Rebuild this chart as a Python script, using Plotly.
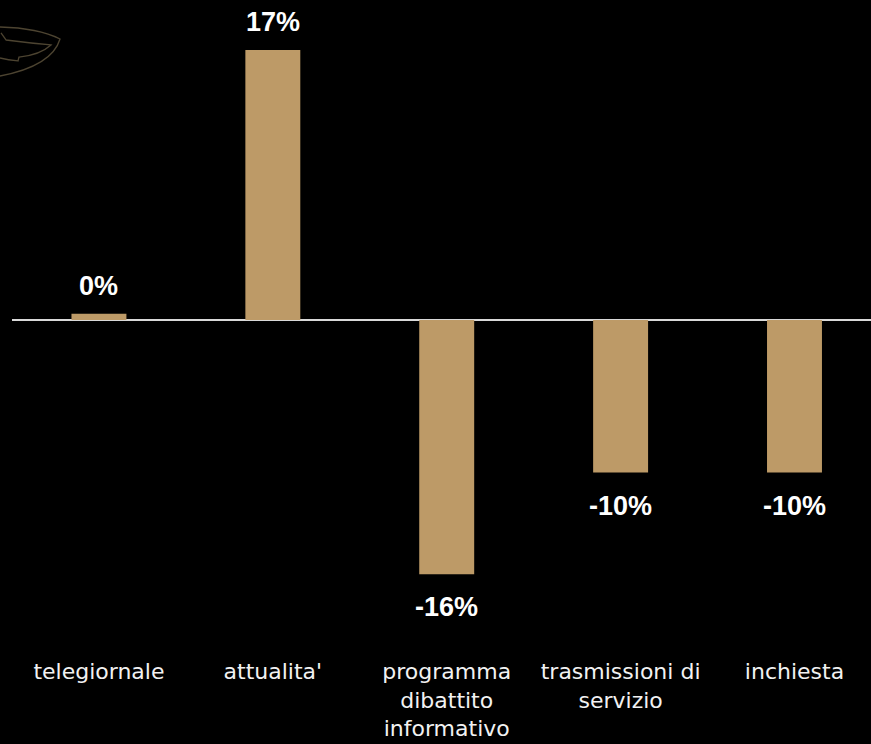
import plotly.graph_objects as go

categories = ["telegiornale", "attualita'", "programma<br>dibattito<br>informativo",
              "trasmissioni di<br>servizio", "inchiesta"]
values = [0.4, 17.0, -16.0, -9.6, -9.6]
labels = [f"{round(v):.0f}%" for v in values]

BAR = "#BD9A67"
W, H = 871, 744
ML, MB = 12, 96
PW, PH = W - ML, H - MB


def p(px, py):
    return f"{(px - ML) / PW:.4f},{1 - py / PH:.4f}"


fig = go.Figure()
fig.add_trace(go.Bar(
    x=list(range(len(categories))), y=values,
    marker=dict(color=BAR, line=dict(width=0)),
    hoverinfo="skip",
))

for i, (v, t) in enumerate(zip(values, labels)):
    fig.add_annotation(
        x=i, y=v, text=f"<b>{t}</b>", showarrow=False,
        yanchor="middle", yshift=(28 if v >= 0 else -33),
        font=dict(family="Liberation Sans, Arial, sans-serif", size=27, color="#ffffff"),
    )

# faint decorative logo outline, top-left
logo = (f"M {p(0,27)} Q {p(38,28)} {p(60,39)} Q {p(52,66)} {p(0,76)} "
        f"M {p(1,33)} L {p(6,40)} Q {p(30,43)} {p(51,45)} Q {p(40,55)} {p(19,57)} L {p(18,61)} "
        f"Q {p(8,60)} {p(0,58)}")
fig.add_shape(type="path", xref="paper", yref="paper", path=logo,
              line=dict(color="#4d4431", width=1.3))

fig.update_layout(
    width=W, height=H,
    margin=dict(l=ML, r=0, t=0, b=MB),
    paper_bgcolor="#000000", plot_bgcolor="#000000",
    bargap=0.684,
    showlegend=False,
    xaxis=dict(
        tickmode="array", tickvals=list(range(len(categories))), ticktext=categories,
        range=[-0.5, 4.44], showgrid=False, zeroline=False, showline=False, ticks="",
        tickfont=dict(family="DejaVu Sans, Verdana, sans-serif", size=22, color="#f2f2f2"),
        tickangle=0, ticklabelstandoff=8,
    ),
    yaxis=dict(
        range=[-20.65, 20.15], showgrid=False, showticklabels=False, ticks="",
        zeroline=True, zerolinecolor="#d9d9d9", zerolinewidth=1.5, showline=False,
    ),
)

fig.write_html("out.html")
